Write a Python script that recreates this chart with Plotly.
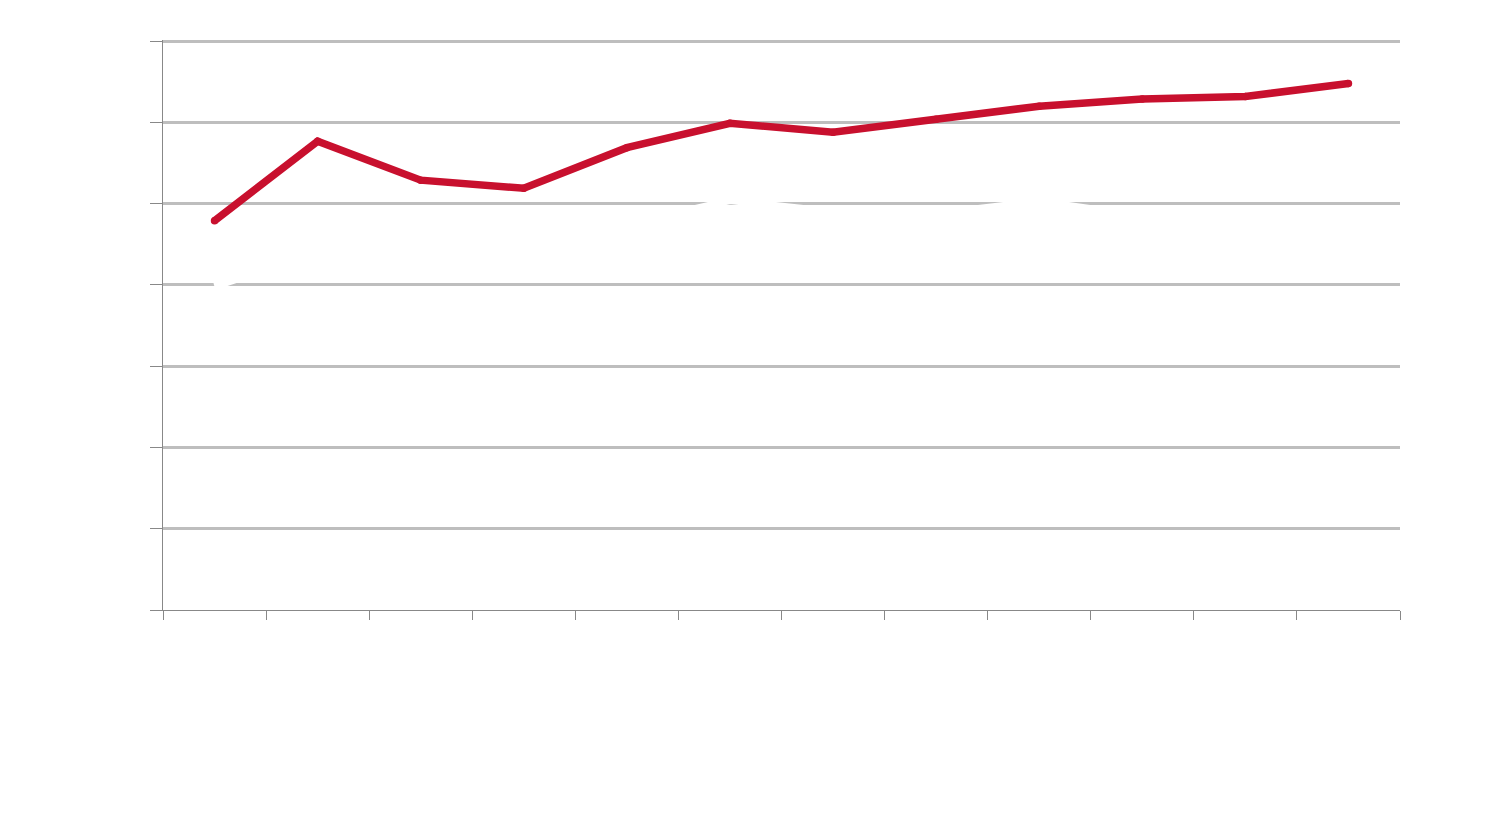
import plotly.graph_objects as go

categories = ["2000", "2001", "2002", "2003", "2004", "2005",
              "2006", "2007", "2008", "2009", "2010", "2011"]
series_red = [47.9, 57.7, 52.9, 51.9, 56.9, 59.9, 58.8, 60.4, 62.0, 62.9, 63.2, 64.8]
series_white = [39.8, 44.0, 43.0, 44.0, 47.5, 50.4, 49.0, 48.8, 50.3, 48.5, 47.0, 46.0]
y_ticks = [0, 10, 20, 30, 40, 50, 60, 70]
y_tick_text = ["0", "10,000", "20,000", "30,000", "40,000", "50,000", "60,000", "70,000"]

fig = go.Figure()
fig.add_trace(go.Scatter(
    x=categories, y=series_white, mode="lines",
    line=dict(color="#ffffff", width=7), name="Series 2", showlegend=False,
))
fig.add_trace(go.Scatter(
    x=categories, y=series_red, mode="lines+markers",
    line=dict(color="#c8102e", width=7.5),
    marker=dict(color="#c8102e", size=7.5),
    name="Series 1", showlegend=False,
))

fig.update_layout(
    width=1500, height=827,
    margin=dict(l=155, r=108, t=32, b=225),
    paper_bgcolor="#ffffff", plot_bgcolor="#ffffff",
    font=dict(family="Liberation Sans, Arial, sans-serif", size=14, color="#ffffff"),
    xaxis=dict(
        type="category", tickson="boundaries",
        showline=True, linecolor="#888888", linewidth=1,
        ticks="outside", ticklen=9, tickcolor="#888888", tickwidth=1,
        tickangle=-90, tickfont=dict(color="#ffffff", size=14),
        showgrid=False, zeroline=False,
        range=[-0.5, 11.5],
    ),
    yaxis=dict(
        range=[0, 70.15], tickvals=y_ticks, ticktext=y_tick_text,
        showline=True, linecolor="#888888", linewidth=1,
        ticks="outside", ticklen=12, tickcolor="#888888", tickwidth=1,
        tickfont=dict(color="#ffffff", size=14),
        showgrid=True, gridcolor="#bebebe", gridwidth=2.5,
        zeroline=False,
    ),
)

fig.write_html("out.html")
